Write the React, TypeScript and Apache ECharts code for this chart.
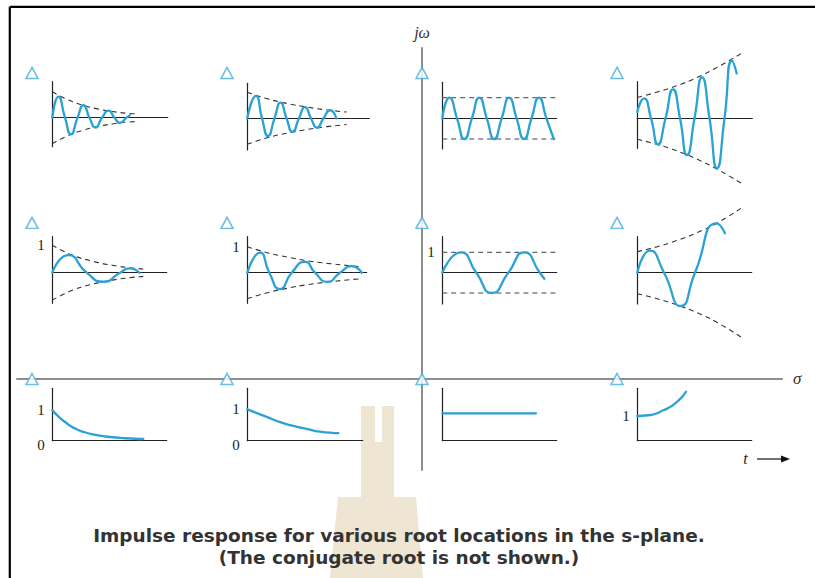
import React, { useEffect, useRef } from "react";
import * as echarts from "echarts";

// Root locations in the s-plane (sigma, j-omega)
const ROOT_SIGMA = [-2, -1, 0, 1];
const ROOT_OMEGA = [2, 1.02, 0];

// Impulse responses, [t, h(t)] (amplitude 1 = envelope at t = 0)
const CURVE_A = [[0, 0], [0.62, 0.81], [1.27, 0], [1.87, -0.64], [2.52, 0], [3.12, 0.48], [3.72, 0], [4.32, -0.38], [4.97, 0], [5.62, 0.27], [6.22, 0], [6.77, -0.2], [7.42, 0], [7.77, 0.1]];
const ENV_A = [[0, 1], [1.5, 0.7], [3, 0.49], [4.5, 0.34], [6, 0.24], [7.5, 0.17], [8.44, 0.15]];

const CURVE_B = [[0, 0], [0.87, 0.86], [1.47, 0], [2.07, -0.68], [2.72, 0], [3.32, 0.6], [3.92, 0], [4.52, -0.52], [5.17, 0], [5.77, 0.43], [6.37, 0], [6.97, -0.36], [7.62, 0], [8.27, 0.31], [8.9, 0]];
const ENV_B = [[0, 1], [2, 0.75], [4, 0.57], [6, 0.43], [8, 0.32], [9.94, 0.24]];

const CURVE_C = [[0, 0], [0.72, 1], [1.47, 0], [2.21, -1], [2.96, 0], [3.7, 1], [4.45, 0], [5.19, -1], [5.94, 0], [6.68, 1], [7.43, 0], [8.17, -1], [8.92, 0], [9.66, 1], [10.41, 0], [11.15, -1]];
const BAND_C = [[0, 1], [11.44, 1]];

const CURVE_D = [[0, 0.3], [0.67, 0.95], [1.37, 0], [2.07, -1.24], [2.82, 0], [3.57, 1.38], [4.27, 0], [4.97, -1.75], [5.72, 0], [6.47, 1.95], [7.22, 0], [7.97, -2.38], [8.72, 0], [9.47, 2.74], [9.94, 2.14]];
const ENV_D = [[0, 1], [2, 1.25], [4, 1.56], [6, 1.95], [8, 2.43], [10.6, 3.15]];

const CURVE_E = [[0, 0], [1.6, 0.64], [3.44, 0], [5.1, -0.33], [6.77, 0], [7.75, 0.16], [8.7, 0]];
const ENV_E = [[0, 1], [2, 0.64], [4, 0.42], [6, 0.27], [8, 0.17], [9.1, 0.135]];

const CURVE_F = [[0, 0], [1.27, 0.77], [2.2, 0], [3.27, -0.63], [4.44, 0], [5.77, 0.42], [6.77, 0], [8.0, -0.35], [9.27, 0], [10.44, 0.25], [11.44, 0]];
const ENV_F = [[0, 1], [2, 0.77], [4, 0.6], [6, 0.46], [8, 0.36], [10, 0.28], [11.44, 0.23]];

const CURVE_G = [[0, 0], [1.85, 1], [3.4, 0], [4.95, -1], [6.6, 0], [8.2, 1], [9.75, 0], [10.2, -0.3]];
const BAND_G = [[0, 1], [11.44, 1]];

const CURVE_H = [[0, 0], [1.27, 1.05], [2.67, 0], [4.34, -1.59], [5.77, 0], [7.94, 2.35], [8.77, 1.88]];
const ENV_H = [[0, 1], [2, 1.24], [4, 1.54], [6, 1.91], [8, 2.37], [10.6, 3.14]];

const CURVE_I = [[0, 1], [0.6, 0.79], [1.44, 0.57], [2.2, 0.41], [3.1, 0.29], [4.3, 0.19], [5.77, 0.12], [7.3, 0.08], [9.1, 0.055]];
const CURVE_J = [[0, 1], [1.94, 0.76], [3.2, 0.6], [4.6, 0.47], [6, 0.37], [7.27, 0.29], [9.1, 0.24]];
const CURVE_K = [[0, 1], [9.37, 1]];
const CURVE_L = [[0, 1], [1.1, 1.03], [2.6, 1.23], [3.94, 1.56], [4.87, 1.98]];

// Axis ranges and tick labels of each small plot
const PANEL_DATA = [
  { curve: CURVE_A, env: ENV_A, band: null, tMax: 11.54, yMin: -1.115, yMax: 1.385, labels: [] },
  { curve: CURVE_B, env: ENV_B, band: null, tMax: 12.2, yMin: -1.219, yMax: 1.346, labels: [] },
  { curve: CURVE_C, env: null, band: BAND_C, tMax: 11.44, yMin: -1.483, yMax: 1.739, labels: [] },
  { curve: CURVE_D, env: ENV_D, band: null, tMax: 11.5, yMin: -1.43, yMax: 1.743, labels: [] },
  { curve: CURVE_E, env: ENV_E, band: null, tMax: 11.44, yMin: -1.113, yMax: 1.309, labels: [1] },
  { curve: CURVE_F, env: ENV_F, band: null, tMax: 11.94, yMin: -1.177, yMax: 1.385, labels: [1] },
  { curve: CURVE_G, env: null, band: BAND_G, tMax: 11.44, yMin: -1.542, yMax: 1.773, labels: [1] },
  { curve: CURVE_H, env: ENV_H, band: null, tMax: 11.44, yMin: -1.49, yMax: 1.714, labels: [] },
  { curve: CURVE_I, env: null, band: null, tMax: 11.44, yMin: 0, yMax: 1.707, labels: [0, 1] },
  { curve: CURVE_J, env: null, band: null, tMax: 11.54, yMin: 0, yMax: 1.669, labels: [0, 1] },
  { curve: CURVE_K, env: null, band: null, tMax: 11.44, yMin: 0, yMax: 1.912, labels: [] },
  { curve: CURVE_L, env: null, band: null, tMax: 11.44, yMin: 0, yMax: 2.121, labels: [1] },
];

// Pixel layout of each small plot (left, top, width, height)
const PANEL_LAYOUT = [
  [52.3, 81.7, 115.4, 65], [247.3, 83.3, 122, 66.7], [442.3, 82.3, 114.4, 66.7], [637.3, 81.7, 115, 66.6],
  [52.3, 236.7, 114.4, 66.6], [247.3, 236.7, 119.4, 66.6], [442.3, 236.7, 114.4, 67.3], [637.3, 236.7, 114.4, 67.3],
  [52.3, 388.3, 114.4, 52.4], [247.3, 388.3, 115.4, 52.4], [442.3, 388.3, 114.4, 52.4], [637.3, 388.3, 114.4, 52.4],
];

const S_PLANE_X = { min: -2.077, max: 1.846 };
const S_PLANE_Y = { min: -0.595, max: 2.163 };

const BLUE = "#2aa2d6";
const TRI = "#45acd9";
const SERIF = "'Liberation Serif', 'DejaVu Serif', serif";
const SANS = "'DejaVu Sans', 'Liberation Sans', sans-serif";

export default function App() {
  const ref = useRef<HTMLDivElement>(null);

  useEffect(() => {
    if (!ref.current) return;
    const chart = echarts.init(ref.current, null, { renderer: "svg" });

    const grids: any[] = [];
    const xAxes: any[] = [];
    const yAxes: any[] = [];
    const series: any[] = [];

    PANEL_DATA.forEach((p, i) => {
      const [left, top, width, height] = PANEL_LAYOUT[i];
      grids.push({ left, top, width, height, show: false });
      xAxes.push({
        gridIndex: i, type: "value", min: 0, max: p.tMax,
        axisLine: { show: true, onZero: true, lineStyle: { color: "#222", width: 1.2 } },
        axisTick: { show: false }, axisLabel: { show: false }, splitLine: { show: false },
      });
      const labels = p.labels;
      yAxes.push({
        gridIndex: i, type: "value", min: p.yMin, max: p.yMax,
        axisLine: { show: true, onZero: false, lineStyle: { color: "#222", width: 1.2 } },
        axisTick: { show: false }, splitLine: { show: false },
        axisLabel: {
          show: labels.length > 0,
          customValues: labels,
          margin: 7.5,
          fontFamily: SERIF, fontSize: 15, color: "#222",
          formatter: (v: number) => {
            if (!labels.some((l) => Math.abs(l - v) < 1e-9)) return "";
            return Math.abs(v) < 1e-9 ? "{lo|0}" : String(Math.round(v));
          },
          rich: { lo: { padding: [8, 0, 0, 0], fontFamily: SERIF, fontSize: 15, color: "#222" } },
        },
      });
      const dashed = (data: number[][], color: string) => ({
        type: "line", xAxisIndex: i, yAxisIndex: i, data, symbol: "none", smooth: true,
        clip: false, silent: true, z: 3,
        lineStyle: { color, width: 1.1, type: [5, 4] },
      });
      if (p.env) {
        series.push(dashed(p.env, "#333"));
        series.push(dashed(p.env.map(([t, v]) => [t, -v]), "#333"));
      }
      if (p.band) {
        series.push(dashed(p.band, "#666"));
        series.push(dashed(p.band.map(([t, v]) => [t, -v]), "#444"));
      }
      series.push({
        type: "line", xAxisIndex: i, yAxisIndex: i, data: p.curve, symbol: "none",
        smooth: 0.6, clip: false, silent: true, z: 4,
        lineStyle: { color: BLUE, width: 2.3, cap: "round", join: "round" },
      });
    });

    const mi = PANEL_DATA.length;
    grids.push({ left: 17, right: 33, top: 48, bottom: 108, show: false });
    xAxes.push({
      gridIndex: mi, type: "value", min: S_PLANE_X.min, max: S_PLANE_X.max,
      name: "σ", nameLocation: "end", nameGap: 11,
      nameTextStyle: { fontFamily: SERIF, fontStyle: "italic", fontSize: 17, color: "#333", verticalAlign: "middle" },
      axisLine: { show: true, onZero: true, lineStyle: { color: "#8e8e8e", width: 2 } },
      axisTick: { show: false }, axisLabel: { show: false }, splitLine: { show: false },
    });
    yAxes.push({
      gridIndex: mi, type: "value", min: S_PLANE_Y.min, max: S_PLANE_Y.max,
      name: "jω", nameLocation: "end", nameGap: 8,
      nameTextStyle: { fontFamily: SERIF, fontStyle: "italic", fontSize: 16, color: "#333" },
      axisLine: { show: true, onZero: true, lineStyle: { color: "#8e8e8e", width: 2 } },
      axisTick: { show: false }, axisLabel: { show: false }, splitLine: { show: false },
    });
    const roots: number[][] = [];
    ROOT_OMEGA.forEach((w) => ROOT_SIGMA.forEach((s) => roots.push([s, w])));
    series.push({
      type: "scatter", xAxisIndex: mi, yAxisIndex: mi, data: roots, symbol: "triangle",
      symbolSize: [12, 11], silent: true, z: 6, clip: false,
      itemStyle: { color: "#fff", borderColor: TRI, borderWidth: 1.5 },
    });

    const beige = "#efe5d3";
    const graphic: any[] = [
      { type: "line", z: 20, shape: { x1: 9.8, y1: 6.8, x2: 815, y2: 6.8 }, style: { stroke: "#000", lineWidth: 2.2 } },
      { type: "line", z: 20, shape: { x1: 9.8, y1: 6.8, x2: 9.8, y2: 578 }, style: { stroke: "#000", lineWidth: 2.2 } },
      { type: "rect", z: -5, shape: { x: 361, y: 406, width: 14, height: 172 }, style: { fill: beige } },
      { type: "rect", z: -5, shape: { x: 382, y: 406, width: 12, height: 172 }, style: { fill: beige } },
      { type: "rect", z: -5, shape: { x: 375, y: 442, width: 7, height: 136 }, style: { fill: beige } },
      { type: "polygon", z: -5, shape: { points: [[338, 497], [361, 497], [361, 578], [330, 578]] }, style: { fill: beige } },
      { type: "polygon", z: -5, shape: { points: [[394, 497], [416, 497], [423, 578], [394, 578]] }, style: { fill: beige } },
      { type: "text", z: 10, x: 745.5, y: 458, style: { text: "t", fontFamily: SERIF, fontStyle: "italic", fontSize: 16, fill: "#222", align: "center", verticalAlign: "middle" } },
      { type: "line", z: 10, shape: { x1: 757, y1: 459, x2: 784, y2: 459 }, style: { stroke: "#111", lineWidth: 1.2 } },
      { type: "polygon", z: 10, shape: { points: [[781, 455.5], [790, 459], [781, 462.5]] }, style: { fill: "#111" } },
      { type: "text", z: 10, x: 399, y: 535, style: { text: "Impulse response for various root locations in the s-plane.", fontFamily: SANS, fontWeight: "bold", fontSize: 18.5, fill: "#333", align: "center", verticalAlign: "middle" } },
      { type: "text", z: 10, x: 399, y: 557.5, style: { text: "(The conjugate root is not shown.)", fontFamily: SANS, fontWeight: "bold", fontSize: 18.5, fill: "#333", align: "center", verticalAlign: "middle" } },
    ];

    chart.setOption({
      animation: false,
      backgroundColor: "#fff",
      grid: grids,
      xAxis: xAxes,
      yAxis: yAxes,
      series,
      graphic,
    });

    return () => chart.dispose();
  }, []);

  return (
    <div
      ref={ref}
      style={{ position: "fixed", left: 0, top: 0, width: 815, height: 578, background: "#fff" }}
    />
  );
}
